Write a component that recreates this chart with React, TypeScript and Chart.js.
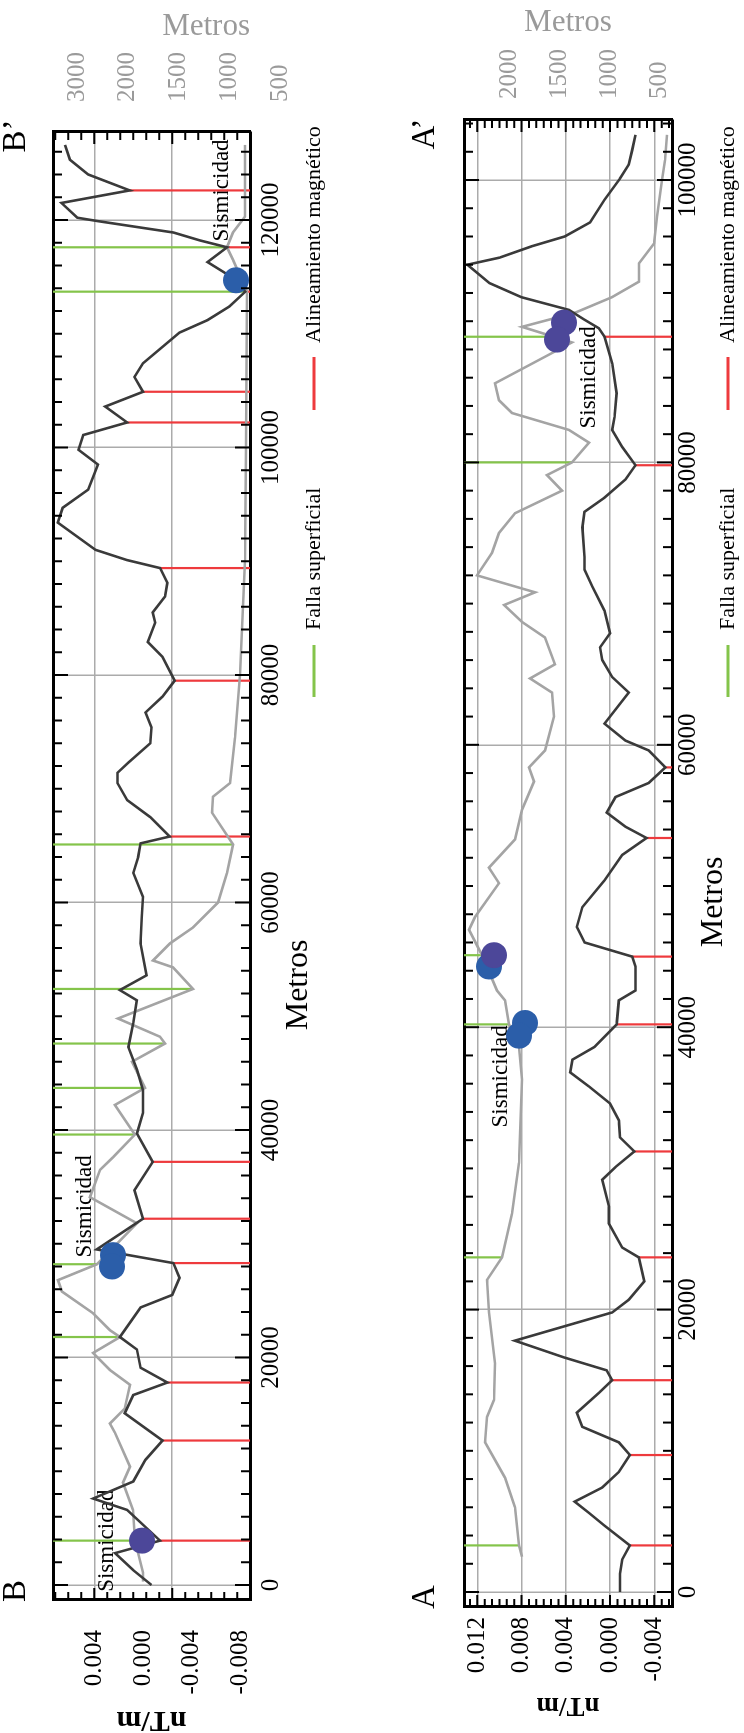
import React, { useEffect, useRef } from 'react';
import { Chart, registerables } from 'chart.js';

Chart.register(...registerables);

const SERIF = '"Liberation Serif", "Times New Roman", Times, serif';
const DARK = '#3a3a3a';
const LIGHT = '#a4a4a4';
const GRID = '#ababab';
const RED = '#ee3a3d';
const GREEN = '#84c44a';
const BLUE = '#2b5ea9';
const PURPLE = '#4c4799';
const ELEV_TEXT = '#9a9a9a';

const W = 1733;
const H = 372;

// ---------- shared text ----------
const DIST_TICKS = [0, 20000, 40000, 60000, 80000, 100000, 120000];
const SEIS_TEXT = 'Sismicidad';
const LEGEND_FAULT = 'Falla superficial';
const LEGEND_MAG = 'Alineamiento magnético';
const DIST_TITLE = 'Metros';
const NT_TITLE = 'nT/m';
const ELEV_TITLE = 'Metros';

// ---------- Perfil B - B' ----------
const B_NT_DIST = [0, 1300, 2800, 3900, 6600, 7600, 9100, 11000, 12700, 15100, 16700, 17800, 19100, 20700, 21800, 24400, 25500, 27000, 28300, 29500, 32200, 34700, 37200, 39700, 41500, 43500, 45300, 47300, 49400, 51400, 52300, 53600, 56400, 58700, 60500, 62600, 64000, 65200, 65800, 67500, 69000, 70500, 71400, 72300, 74000, 75400, 76700, 78100, 79500, 81600, 82900, 84600, 85500, 86900, 88100, 89400, 90100, 91000, 93400, 94700, 96300, 98500, 99800, 101100, 102200, 103600, 104900, 106200, 107400, 110100, 111200, 112400, 113700, 114900, 116300, 117600, 118200, 118900, 119900, 120200, 121500, 122600, 124000, 125300, 126600];
const B_NT = [-0.0007, 0.0008, 0.0023, -0.0014, 0.0013, 0.0041, 0.0008, -0.0002, -0.0016, 0.0015, 0.0008, -0.0020, 0.0002, 0.0005, 0.0019, 0.0002, -0.0024, -0.0030, -0.0025, 0.0038, 0.0000, 0.0007, -0.0008, 0.0005, 0.0000, 0.0000, 0.0005, 0.0012, 0.0008, 0.0005, 0.0019, -0.0003, 0.0002, 0.0001, 0.0000, 0.0008, 0.0004, 0.0002, -0.0022, -0.0006, 0.0013, 0.0021, 0.0021, 0.0012, -0.0006, -0.0007, -0.0002, -0.0016, -0.0026, -0.0016, -0.0004, -0.0010, -0.0008, -0.0018, -0.0020, -0.0014, 0.0013, 0.0039, 0.0070, 0.0066, 0.0045, 0.0037, 0.0053, 0.0049, 0.0013, 0.0031, 0.0000, 0.0007, 0.0000, -0.0030, -0.0053, -0.0071, -0.0084, -0.0074, -0.0053, -0.0069, -0.0047, -0.0025, 0.0037, 0.0054, 0.0067, 0.0011, 0.0045, 0.0060, 0.0064];
const B_ELEV_DIST = [300, 1100, 3900, 6600, 9000, 10400, 13400, 14200, 15500, 17600, 18900, 20400, 21800, 22400, 23900, 25800, 26800, 28200, 31800, 34100, 36500, 37600, 39600, 42200, 43700, 46000, 47600, 48200, 49800, 52400, 54300, 54900, 56400, 57800, 60000, 62600, 65100, 67900, 69300, 70500, 74500, 80000, 90100, 100000, 113700, 116500, 117600, 118900, 120300, 126600];
const B_ELEV = [1850, 1850, 1929, 1948, 2047, 1978, 2126, 2175, 2030, 1978, 2175, 2342, 2076, 2175, 2342, 2648, 2687, 2303, 1909, 2372, 2273, 2145, 1929, 2126, 1830, 1958, 1633, 1682, 2096, 1357, 1554, 1751, 1584, 1357, 1111, 1022, 963, 1170, 1160, 993, 943, 894, 845, 835, 825, 963, 1022, 963, 845, 845];
const B_FAULT_GREEN = [3900, 21800, 28200, 39600, 43700, 47600, 52400, 65100, 113700, 117600];
const B_FAULT_RED = [3900, 12700, 17800, 28300, 32200, 37200, 65800, 79500, 89400, 102200, 104900, 113700, 117600, 122600];
const B_BLUE_DIST = [29000, 28000, 114700];
const B_BLUE_ELEV = [2145, 2155, 934];
const B_PURPLE_DIST = [3900];
const B_PURPLE_ELEV = [1860];
const B_SEIS_LABEL_DIST = [-600, 28800, 118100];
const B_SEIS_LABEL_ELEV = [2204, 2421, 1071];
const B_END_DIST = [-527, 127384];
const B_END_LABELS = ['B', 'B’'];
const B_NT_TICKS = [0.004, 0, -0.004, -0.008];
const B_NT_TICK_LABELS = ['0.004', '0.000', '-0.004', '-0.008'];
const B_NT_GRID = [0.004, -0.0024];
const B_ELEV_TICKS = [2500, 2000, 1500, 1000, 500];
const B_ELEV_TICK_LABELS = ['3000', '2000', '1500', '1000', '500'];

// ---------- Perfil A - A' ----------
const A_NT_DIST = [0, 1300, 2300, 3300, 4700, 5600, 6400, 7400, 8500, 9700, 10600, 11700, 12700, 14100, 15000, 15700, 16600, 17800, 19800, 20700, 22000, 23700, 24400, 26100, 27300, 29200, 30100, 31200, 32200, 33400, 34600, 35800, 36800, 37700, 38600, 40200, 41900, 42600, 44300, 45000, 46000, 47100, 48500, 50400, 52200, 53400, 54200, 55200, 56300, 57300, 58400, 59600, 60300, 61500, 63700, 64800, 66000, 66900, 67900, 69500, 71200, 72400, 73300, 75400, 76500, 77500, 78800, 79800, 81100, 82300, 83200, 84900, 87000, 88900, 89500, 90100, 90800, 91700, 92700, 94000, 94500, 95300, 96000, 97000, 98600, 100100, 101100, 102100, 103200];
const A_NT = [-0.0009, -0.0009, -0.0011, -0.0018, 0.0005, 0.0019, 0.0032, 0.0007, -0.0008, -0.0018, -0.0008, 0.0025, 0.0030, 0.0010, -0.0002, 0.0003, 0.0041, 0.0086, -0.0002, -0.0017, -0.0031, -0.0026, -0.0011, 0.0001, 0.0001, 0.0007, -0.0005, -0.0022, -0.0009, -0.0008, 0.0000, 0.0019, 0.0036, 0.0034, 0.0014, -0.0006, -0.0008, -0.0023, -0.0023, -0.0020, 0.0023, 0.0030, 0.0025, 0.0005, -0.0011, -0.0033, -0.0014, 0.0003, -0.0005, -0.0035, -0.0050, -0.0035, -0.0014, 0.0005, -0.0017, -0.0002, 0.0007, 0.0009, 0.0000, 0.0005, 0.0016, 0.0023, 0.0023, 0.0025, 0.0023, 0.0005, -0.0014, -0.0023, -0.0011, -0.0002, -0.0004, -0.0006, -0.0002, 0.0005, 0.0010, 0.0023, 0.0037, 0.0080, 0.0109, 0.0129, 0.0100, 0.0071, 0.0041, 0.0018, 0.0005, -0.0009, -0.0017, -0.0020, -0.0023];
const A_ELEV_DIST = [2500, 3300, 6000, 8100, 10600, 12400, 13600, 16200, 19800, 22100, 23700, 26800, 30400, 36300, 38600, 40200, 41900, 42600, 45100, 46900, 47800, 50200, 51300, 53300, 55400, 57400, 58400, 59600, 62000, 63700, 64700, 65700, 67600, 68700, 69900, 70800, 72000, 73600, 75000, 76400, 78000, 79100, 80000, 81400, 82300, 83500, 84400, 85600, 88500, 89600, 90600, 91700, 92800, 94100, 95500, 97400, 100000, 101400, 103200];
const A_ELEV = [1870, 1900, 1940, 2040, 2240, 2220, 2150, 2140, 2200, 2220, 2070, 1970, 1900, 1870, 1900, 2000, 2040, 2120, 2270, 2400, 2340, 2100, 2200, 1940, 1870, 1750, 1800, 1640, 1550, 1570, 1790, 1540, 1640, 1870, 2050, 1740, 2320, 2170, 2100, 1940, 1470, 1620, 1370, 1200, 1400, 1970, 2100, 2140, 1370, 1870, 1340, 970, 700, 700, 550, 520, 470, 440, 420];
const A_FAULT_GREEN = [3300, 23700, 40200, 45100, 80000, 88900];
const A_FAULT_RED = [3300, 9700, 15000, 23700, 31200, 40200, 45000, 53400, 58400, 79800, 88900];
const A_BLUE_DIST = [44300, 40300, 39400];
const A_BLUE_ELEV = [2200, 1840, 1900];
const A_PURPLE_DIST = [89900, 88700, 45100];
const A_PURPLE_ELEV = [1450, 1520, 2150];
const A_SEIS_LABEL_DIST = [82400, 32900];
const A_SEIS_LABEL_ELEV = [1200, 2080];
const A_END_DIST = [-354, 103259];
const A_END_LABELS = ['A', 'A’'];
const A_NT_TICKS = [0.012, 0.008, 0.004, 0, -0.004];
const A_NT_TICK_LABELS = ['0.012', '0.008', '0.004', '0.000', '-0.004'];
const A_NT_GRID = [0.012, 0.008, 0.004, 0, -0.004];
const A_ELEV_TICKS = [2000, 1500, 1000, 500];
const A_ELEV_TICK_LABELS = ['2000', '1500', '1000', '500'];

type Layout = {
  xMin: number; xMax: number; ntMin: number; ntMax: number; elevMin: number; elevMax: number;
  topH: number; leftW: number; rightW: number; bottomH: number;
  xPad: number; topPad: number; leftPad: number; rightPad: number;
  ntTitleSize: number; ntTitlePad: number; elevTitlePad: number; elevTitleAlign: 'start' | 'center' | 'end';
  xTitleX: number; xTitleY: number; legendY: number;
  yMinorStart: number; yMinorStep: number;
};

type Spec = {
  ntDist: number[]; nt: number[]; elevDist: number[]; elev: number[];
  green: number[]; red: number[];
  blueDist: number[]; blueElev: number[]; purpleDist: number[]; purpleElev: number[];
  labelDist: number[]; labelElev: number[];
  endDist: number[]; endLabels: string[];
  ntTicks: number[]; ntTickLabels: string[]; ntGrid: number[];
  elevTicks: number[]; elevTickLabels: string[];
  layout: Layout;
};

const SPEC_B: Spec = {
  ntDist: B_NT_DIST, nt: B_NT, elevDist: B_ELEV_DIST, elev: B_ELEV,
  green: B_FAULT_GREEN, red: B_FAULT_RED,
  blueDist: B_BLUE_DIST, blueElev: B_BLUE_ELEV, purpleDist: B_PURPLE_DIST, purpleElev: B_PURPLE_ELEV,
  labelDist: B_SEIS_LABEL_DIST, labelElev: B_SEIS_LABEL_ELEV,
  endDist: B_END_DIST, endLabels: B_END_LABELS,
  ntTicks: B_NT_TICKS, ntTickLabels: B_NT_TICK_LABELS, ntGrid: B_NT_GRID,
  elevTicks: B_ELEV_TICKS, elevTickLabels: B_ELEV_TICK_LABELS,
  layout: {
    xMin: -1319, xMax: 127736, ntMin: -0.008789, ntMax: 0.007392, elevMin: 795.6, elevMax: 2736,
    topH: 53, leftW: 133, rightW: 132, bottomH: 122,
    xPad: 6, topPad: 9, leftPad: 30, rightPad: 22,
    ntTitleSize: 30, ntTitlePad: -2, elevTitlePad: 11.5, elevTitleAlign: 'start',
    xTitleX: 748, xTitleY: 299, legendY: 314,
    yMinorStart: 0.004, yMinorStep: 0.0064 / 6,
  },
};

const SPEC_A: Spec = {
  ntDist: A_NT_DIST, nt: A_NT, elevDist: A_ELEV_DIST, elev: A_ELEV,
  green: A_FAULT_GREEN, red: A_FAULT_RED,
  blueDist: A_BLUE_DIST, blueElev: A_BLUE_ELEV, purpleDist: A_PURPLE_DIST, purpleElev: A_PURPLE_ELEV,
  labelDist: A_SEIS_LABEL_DIST, labelElev: A_SEIS_LABEL_ELEV,
  endDist: A_END_DIST, endLabels: A_END_LABELS,
  ntTicks: A_NT_TICKS, ntTickLabels: A_NT_TICK_LABELS, ntGrid: A_NT_GRID,
  elevTicks: A_ELEV_TICKS, elevTickLabels: A_ELEV_TICK_LABELS,
  layout: {
    xMin: -1062, xMax: 104250, ntMin: -0.005604, ntMax: 0.013198, elevMin: 370, elevMax: 2450,
    topH: 92, leftW: 126, rightW: 120, bottomH: 72,
    xPad: 1, topPad: 11, leftPad: 10, rightPad: 13,
    ntTitleSize: 27, ntTitlePad: 14.5, elevTitlePad: 7.5, elevTitleAlign: 'center',
    xTitleX: 831, xTitleY: 342, legendY: 356,
    yMinorStart: 0, yMinorStep: 0.004 / 6,
  },
};

function nearestValue(xs: number[], ys: number[], d: number) {
  let best = 0;
  for (let i = 1; i < xs.length; i++) if (Math.abs(xs[i] - d) < Math.abs(xs[best] - d)) best = i;
  return ys[best];
}

function interpValue(xs: number[], ys: number[], d: number) {
  if (d <= xs[0]) return ys[0];
  for (let i = 1; i < xs.length; i++) {
    if (d <= xs[i]) {
      const t = (d - xs[i - 1]) / (xs[i] - xs[i - 1]);
      return ys[i - 1] + t * (ys[i] - ys[i - 1]);
    }
  }
  return ys[ys.length - 1];
}

const matchIndex = (arr: number[], v: number) => arr.findIndex((a) => Math.abs(a - v) < 1e-9);

function makePlugin(spec: Spec) {
  const L = spec.layout;
  return {
    id: 'profileExtras',
    beforeDatasetsDraw(chart: any) {
      const { ctx } = chart;
      const xs = chart.scales.x;
      const es = chart.scales.elev;
      ctx.save();
      ctx.font = `23px ${SERIF}`;
      ctx.fillStyle = '#000';
      ctx.textAlign = 'left';
      ctx.textBaseline = 'middle';
      spec.labelDist.forEach((d, i) => {
        ctx.fillText(SEIS_TEXT, xs.getPixelForValue(d), es.getPixelForValue(spec.labelElev[i]));
      });
      ctx.restore();
    },
    afterDatasetsDraw(chart: any) {
      const { ctx, chartArea: a } = chart;
      const xs = chart.scales.x;
      const ys = chart.scales.y;
      ctx.save();
      ctx.strokeStyle = '#000';
      ctx.lineWidth = 2;
      ctx.beginPath();
      for (let v = 0; v <= L.xMax; v += 2000) {
        const px = xs.getPixelForValue(v);
        const len = v % 20000 === 0 ? 15 : 9;
        ctx.moveTo(px, a.bottom);
        ctx.lineTo(px, a.bottom - len);
        ctx.moveTo(px, a.top);
        ctx.lineTo(px, a.top + len);
      }
      for (let k = -40; k <= 40; k++) {
        const v = L.yMinorStart + k * L.yMinorStep;
        if (v < L.ntMin || v > L.ntMax) continue;
        const py = ys.getPixelForValue(v);
        const len = k % 6 === 0 ? 12 : 8;
        ctx.moveTo(a.left, py);
        ctx.lineTo(a.left + len, py);
        ctx.moveTo(a.right, py);
        ctx.lineTo(a.right - len, py);
      }
      ctx.stroke();
      ctx.restore();
    },
    afterDraw(chart: any) {
      const { ctx } = chart;
      ctx.save();
      ctx.fillStyle = '#000';
      ctx.textBaseline = 'middle';
      ctx.textAlign = 'center';
      ctx.font = `32px ${SERIF}`;
      ctx.fillText(DIST_TITLE, L.xTitleX, L.xTitleY);
      const ds = chart.data.datasets;
      const green = ds.find((d: any) => d.id === 'green');
      const red = ds.find((d: any) => d.id === 'red');
      ctx.font = `22px ${SERIF}`;
      ctx.textAlign = 'left';
      ctx.lineWidth = 3;
      const y = L.legendY;
      ctx.strokeStyle = green.borderColor;
      ctx.beginPath();
      ctx.moveTo(1036, y);
      ctx.lineTo(1088, y);
      ctx.stroke();
      ctx.fillText(green.label, 1103, y);
      ctx.strokeStyle = red.borderColor;
      ctx.beginPath();
      ctx.moveTo(1323, y);
      ctx.lineTo(1376, y);
      ctx.stroke();
      ctx.fillText(red.label, 1390, y);
      ctx.restore();
    },
  };
}

function buildConfig(spec: Spec): any {
  const L = spec.layout;
  const darkData = spec.ntDist.map((d, i) => ({ x: d, y: spec.nt[i] }));
  const elevData = spec.elevDist.map((d, i) => ({ x: d, y: spec.elev[i] }));
  const redData = spec.red.flatMap((d) => [
    { x: d, y: nearestValue(spec.ntDist, spec.nt, d) },
    { x: d, y: L.ntMin },
    { x: d, y: null },
  ]);
  const greenData = spec.green.flatMap((d) => [
    { x: d, y: L.elevMax },
    { x: d, y: interpValue(spec.elevDist, spec.elev, d) },
    { x: d, y: null },
  ]);
  const purpleData = spec.purpleDist.map((d, i) => ({ x: d, y: spec.purpleElev[i] }));
  const blueData = spec.blueDist.map((d, i) => ({ x: d, y: spec.blueElev[i] }));

  const dot = (data: any[], color: string) => ({
    data, yAxisID: 'elev', showLine: false, pointRadius: 13, pointHoverRadius: 13,
    pointBackgroundColor: color, pointBorderWidth: 0, borderColor: color, backgroundColor: color,
  });

  const border = { display: true, color: '#000', width: 3 };

  return {
    type: 'line',
    data: {
      datasets: [
        { label: 'Sismicidad', ...dot(purpleData, PURPLE) },
        { label: 'Sismicidad ', ...dot(blueData, BLUE) },
        { label: 'nT/m', data: darkData, yAxisID: 'y', borderColor: DARK, borderWidth: 2.6, pointRadius: 0, tension: 0 },
        { label: 'Elevación', data: elevData, yAxisID: 'elev', borderColor: LIGHT, borderWidth: 2.6, pointRadius: 0, tension: 0 },
        { id: 'red', label: LEGEND_MAG, data: redData, yAxisID: 'y', borderColor: RED, borderWidth: 2.2, pointRadius: 0, spanGaps: false },
        { id: 'green', label: LEGEND_FAULT, data: greenData, yAxisID: 'elev', borderColor: GREEN, borderWidth: 2.2, pointRadius: 0, spanGaps: false },
      ],
    },
    options: {
      responsive: false,
      animation: false,
      devicePixelRatio: 1,
      events: [],
      layout: { padding: 0 },
      plugins: { legend: { display: false }, tooltip: { enabled: false }, title: { display: false } },
      scales: {
        x: {
          type: 'linear', position: 'bottom', min: L.xMin, max: L.xMax,
          afterBuildTicks: (s: any) => { s.ticks = DIST_TICKS.filter((v) => v <= L.xMax).map((v) => ({ value: v })); },
          afterFit: (s: any) => { s.height = L.bottomH; },
          ticks: { autoSkip: false, maxRotation: 0, padding: L.xPad, color: '#000', font: { family: SERIF, size: 25 }, callback: (v: number) => String(v) },
          grid: { color: GRID, lineWidth: 1.5, drawTicks: false },
          border,
        },
        xTop: {
          type: 'linear', position: 'top', min: L.xMin, max: L.xMax,
          afterBuildTicks: (s: any) => { s.ticks = spec.endDist.map((v) => ({ value: v })); },
          afterFit: (s: any) => { s.height = L.topH; },
          ticks: { autoSkip: false, maxRotation: 0, padding: L.topPad, color: '#000', font: { family: SERIF, size: 33 }, callback: (_v: number, i: number) => spec.endLabels[i] },
          grid: { display: false },
          border,
        },
        y: {
          type: 'linear', position: 'left', min: L.ntMin, max: L.ntMax,
          afterBuildTicks: (s: any) => {
            const vals = Array.from(new Set([...spec.ntTicks, ...spec.ntGrid])).sort((p, q) => p - q);
            s.ticks = vals.map((v) => ({ value: v }));
          },
          afterFit: (s: any) => { s.width = L.leftW; },
          ticks: {
            autoSkip: false, padding: L.leftPad, color: '#000', font: { family: SERIF, size: 25 },
            callback: (v: number) => { const i = matchIndex(spec.ntTicks, v); return i >= 0 ? spec.ntTickLabels[i] : ''; },
          },
          grid: {
            drawTicks: false, lineWidth: 1.5,
            color: (c: any) => (c.tick && matchIndex(spec.ntGrid, c.tick.value) >= 0 ? GRID : 'rgba(0,0,0,0)'),
          },
          border,
          title: {
            display: true, text: NT_TITLE, color: '#000',
            font: { family: SERIF, size: L.ntTitleSize, weight: 'bold', lineHeight: 1 },
            padding: { top: L.ntTitlePad, bottom: 0 },
          },
        },
        elev: {
          type: 'linear', position: 'right', min: L.elevMin, max: L.elevMax,
          afterBuildTicks: (s: any) => { s.ticks = [...spec.elevTicks].sort((p, q) => p - q).map((v) => ({ value: v })); },
          afterFit: (s: any) => { s.width = L.rightW; },
          ticks: {
            autoSkip: false, padding: L.rightPad, color: ELEV_TEXT, font: { family: SERIF, size: 25 },
            callback: (v: number) => { const i = matchIndex(spec.elevTicks, v); return i >= 0 ? spec.elevTickLabels[i] : ''; },
          },
          grid: { display: false },
          border,
          title: {
            display: true, text: ELEV_TITLE, color: ELEV_TEXT, align: L.elevTitleAlign,
            font: { family: SERIF, size: 31, lineHeight: 1 },
            padding: { top: L.elevTitlePad, bottom: 0 },
          },
        },
      },
    },
    plugins: [makePlugin(spec)],
  };
}

function ProfileChart({ spec }: { spec: Spec }) {
  const ref = useRef<HTMLCanvasElement>(null);
  useEffect(() => {
    const chart = new Chart(ref.current as HTMLCanvasElement, buildConfig(spec));
    return () => chart.destroy();
  }, [spec]);
  return <canvas ref={ref} width={W} height={H} style={{ display: 'block', width: W, height: H }} />;
}

export default function App() {
  return (
    <div
      style={{
        position: 'fixed', left: 0, top: 0, width: W, height: H * 2, background: '#fff',
        transformOrigin: '0 0', transform: `translateY(${W}px) rotate(-90deg)`,
      }}
    >
      <ProfileChart spec={SPEC_B} />
      <ProfileChart spec={SPEC_A} />
    </div>
  );
}
